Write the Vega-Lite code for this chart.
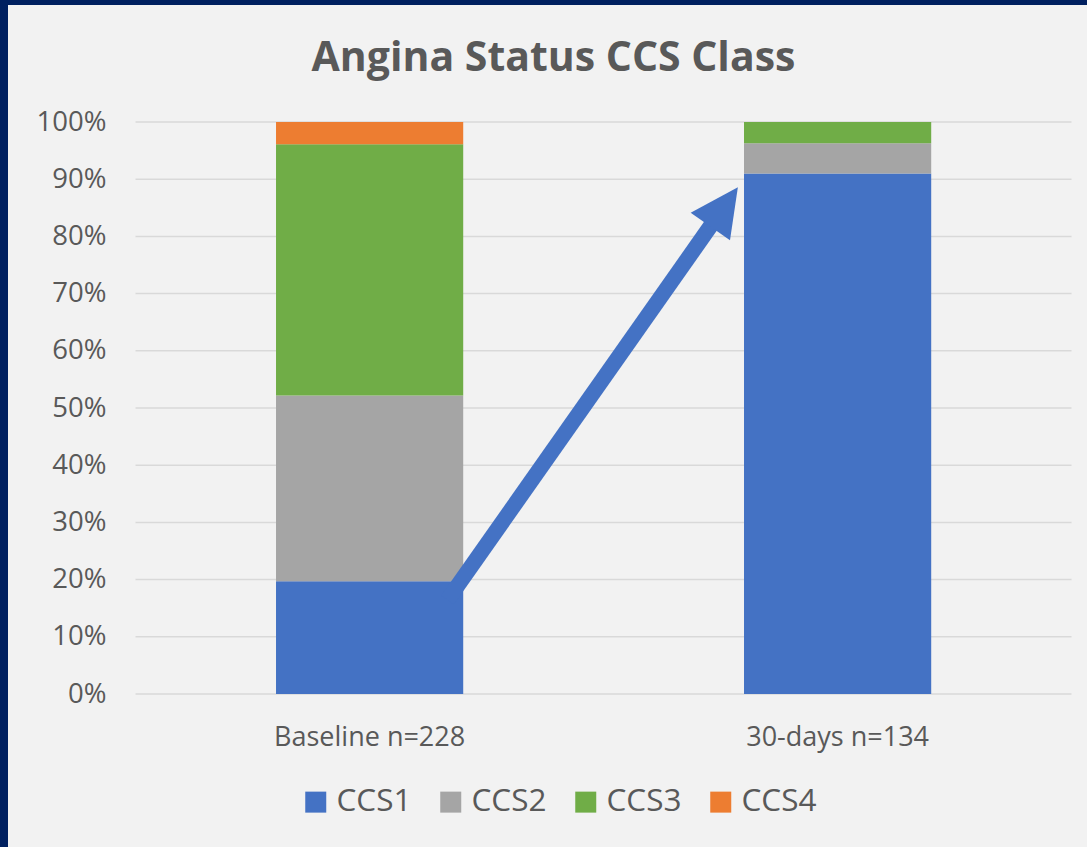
{
  "$schema": "https://vega.github.io/schema/vega-lite/v6.json",
  "width": 1079,
  "height": 842,
  "autosize": {"type": "none"},
  "padding": {"left": 8, "top": 5, "right": 0, "bottom": 0},
  "background": "#002060",
  "config": {"view": {"fill": "#f2f2f2", "stroke": null}, "font": "Open Sans"},
  "title": {"text": "Angina Status CCS Class", "fontSize": 41, "fontWeight": "bold", "font": "Open Sans", "color": "#595959", "anchor": "middle", "frame": "group", "offset": -75, "dx": 6},
  "datasets": {
    "bars": [
      {"period": "Baseline n=228", "cls": "CCS1", "pct": 0.197},
      {"period": "Baseline n=228", "cls": "CCS2", "pct": 0.325},
      {"period": "Baseline n=228", "cls": "CCS3", "pct": 0.439},
      {"period": "Baseline n=228", "cls": "CCS4", "pct": 0.039},
      {"period": "30-days n=134", "cls": "CCS1", "pct": 0.910},
      {"period": "30-days n=134", "cls": "CCS2", "pct": 0.053},
      {"period": "30-days n=134", "cls": "CCS3", "pct": 0.037},
      {"period": "30-days n=134", "cls": "CCS4", "pct": 0.0}
    ],
    "grid": [{"v": 0}, {"v": 0.1}, {"v": 0.2}, {"v": 0.3}, {"v": 0.4}, {"v": 0.5}, {"v": 0.6}, {"v": 0.7}, {"v": 0.8}, {"v": 0.9}, {"v": 1.0}],
    "arrow": [{"ax": 0.1667, "ay": 0.1643}, {"ax": 0.7577, "ay": 0.8517}],
    "head": [{"ax": 0.7577, "ay": 0.8517}]
  },
  "resolve": {"scale": {"x": "independent"}, "axis": {"x": "independent"}},
  "layer": [
    {
      "data": {"name": "grid"},
      "mark": {"type": "rule", "color": "#d9d9d9", "strokeWidth": 1.5},
      "encoding": {
        "x": {"datum": -0.5, "type": "quantitative", "scale": {"domain": [-0.77244, 1.53312], "nice": false, "zero": false}, "axis": null},
        "x2": {"datum": 1.5},
        "y": {
          "field": "v", "type": "quantitative",
          "scale": {"domain": [-0.26748, 1.20455], "nice": false, "zero": false},
          "axis": {"title": null, "orient": "left", "values": [0, 0.1, 0.2, 0.3, 0.4, 0.5, 0.6, 0.7, 0.8, 0.9, 1.0], "format": ".0%", "offset": -98, "domain": false, "ticks": false, "tickSize": 0, "labelPadding": 0, "grid": false, "labelFontSize": 27.5, "labelColor": "#595959", "labelFont": "Open Sans"}
        }
      }
    },
    {
      "data": {"name": "bars"},
      "mark": {"type": "bar"},
      "encoding": {
        "x": {
          "field": "period", "type": "nominal", "sort": ["Baseline n=228", "30-days n=134"],
          "scale": {"paddingInner": 0.6, "paddingOuter": 0.4528, "align": 0.6324},
          "axis": {"title": null, "orient": "bottom", "offset": -153, "domain": false, "ticks": false, "tickSize": 0, "labelPadding": 30, "labelAngle": 0, "labelFontSize": 27, "labelColor": "#595959", "labelFont": "Open Sans", "labelLimit": 0, "grid": false}
        },
        "y": {
          "field": "pct", "type": "quantitative", "stack": "zero",
          "scale": {"domain": [-0.26748, 1.20455], "nice": false, "zero": false}
        },
        "color": {
          "field": "cls", "type": "nominal",
          "scale": {"domain": ["CCS1", "CCS2", "CCS3", "CCS4"], "range": ["#4472C4", "#A5A5A5", "#70AD47", "#ED7D31"]},
          "legend": {"orient": "none", "legendX": 292, "legendY": 781, "direction": "horizontal", "title": null, "symbolType": "square", "symbolSize": 441, "symbolStrokeWidth": 0, "symbolOpacity": 1, "labelFontSize": 31.5, "labelColor": "#595959", "labelFont": "Open Sans", "labelOffset": 5, "columnPadding": 23, "padding": 0}
        },
        "order": {"field": "cls", "sort": "ascending"}
      }
    },
    {
      "data": {"name": "arrow"},
      "mark": {"type": "line", "color": "#4472C4", "strokeWidth": 15.5, "strokeCap": "butt"},
      "encoding": {
        "x": {"field": "ax", "type": "quantitative", "scale": {"domain": [-0.77244, 1.53312], "nice": false, "zero": false}, "axis": null},
        "y": {"field": "ay", "type": "quantitative", "scale": {"domain": [-0.26748, 1.20455], "nice": false, "zero": false}}
      }
    },
    {
      "data": {"name": "head"},
      "mark": {"type": "point", "shape": "M0,-1L1,1L-1,1Z", "size": 2304, "angle": 35, "filled": true, "opacity": 1, "color": "#4472C4", "strokeWidth": 0},
      "encoding": {
        "x": {"field": "ax", "type": "quantitative", "scale": {"domain": [-0.77244, 1.53312], "nice": false, "zero": false}, "axis": null},
        "y": {"field": "ay", "type": "quantitative", "scale": {"domain": [-0.26748, 1.20455], "nice": false, "zero": false}}
      }
    }
  ]
}
